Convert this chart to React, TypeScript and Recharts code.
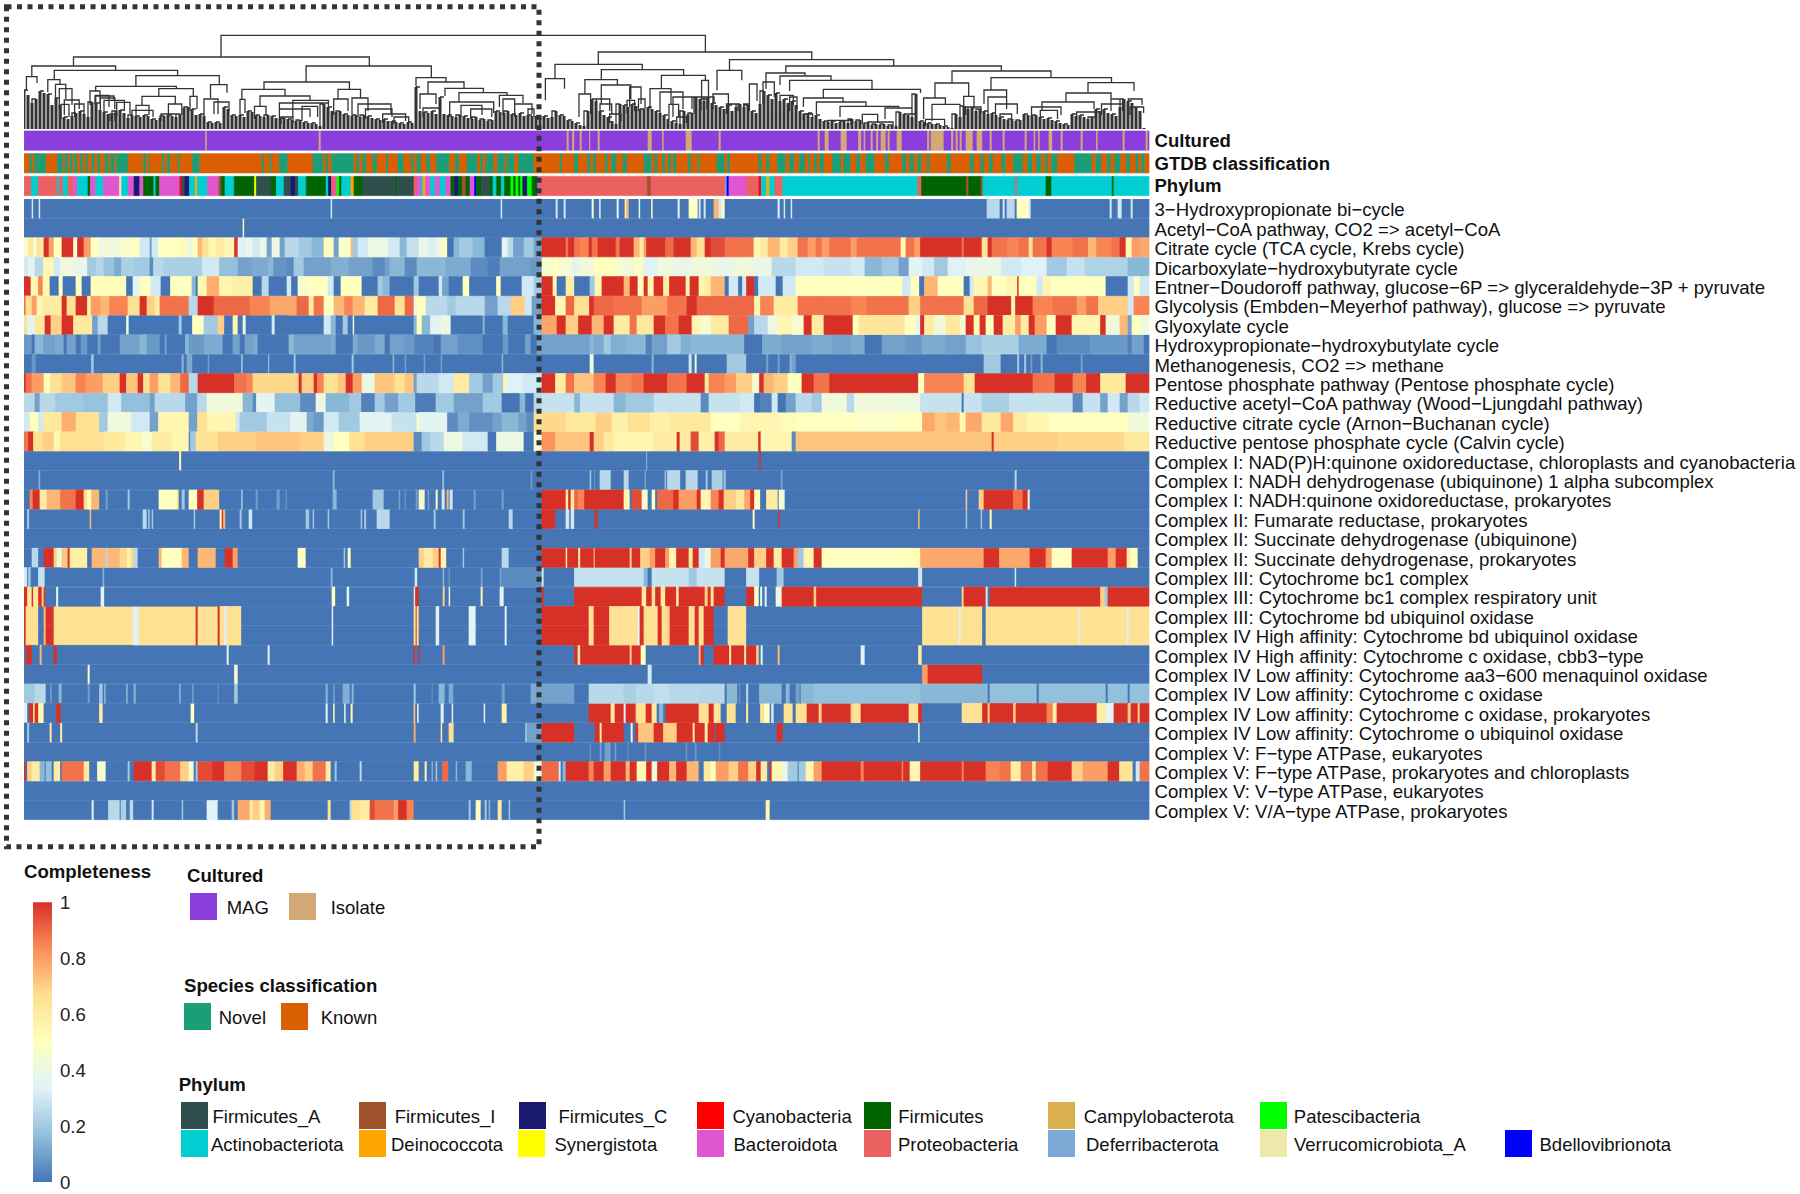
import React from 'react';
import { BarChart, Bar, Cell, XAxis, YAxis, LineChart, Line } from 'recharts';

const font = '"Liberation Sans", Arial, sans-serif';
const columns = 1125;

// completeness per pathway, as flat pairs: last column of the run, value of the run
const hydroxy3 = [8,0,9.5,.3,15,0,16.5,.3,307,0,308.5,.3,477,0,478.5,.3,532,0,534,.3,540,0,542,.3,568,0,570,.5,575.5,0,577,.35,593,0,595,.35,601,0,602.5,.55,605,.75,615,0,616.5,.35,627.5,0,629,.55,654,0,656,.35,665,0,674,.5,675,0,677,.3,680,0,682,.3,690,0,695,.75,698,.3,701,.5,754,0,756,.35,760,0,761.5,.3,767,0,768.5,.3,963,0,976,.25,979,0,981,.3,983,0,991,.25,993,0,1005,.5,1007,.3,1086,0,1088,.3,1094,0,1098,.3,1107,0,1109,.3,1125,0];
const acetylCoa = [219,0,220.5,.55,1125,0];
const citrate = [4.5,.45,9.5,.62,13,.45,16,.66,20,.6,25,1,30,.8,38,.5,49.5,1,53.5,.45,60,1,67,.8,75.5,.5,80.5,.4,97.5,.42,109,.47,116,.5,126,.3,128,.1,134.5,.3,155,.5,163,.52,168.5,.4,174,.5,178.5,.75,185,.66,192,.55,200,.6,210.5,.55,214,1,222,.33,229,.38,236,.3,243,.38,248,.1,256,.4,261,.1,275,.25,288,.2,300,.15,310,.52,315,.1,327,.47,329,.75,334,.2,344,.3,364.5,.4,376,.3,383,.15,395,.28,405,.38,412,.32,418.5,.4,423.5,.52,430,0,435.5,.15,449,.2,461,.15,478,0,484,.35,489.5,.25,500,.1,510,.2,518,.1,542,1,544.5,.88,550.5,1,556,.88,565,.85,568,1,574,.88,592,1,596,.88,610,1,616,.75,620,.6,622.5,.8,641.5,1,650,.9,667,1,673,.75,681,.66,687,1,701,.95,712.5,.88,730,.88,736.5,.55,744,.6,756,.75,764,.6,774,.7,784,.88,792,.8,798,.88,805.5,.8,827,.88,833,.8,877,.88,882,.55,890.5,.88,896.5,.8,938,1,940,.88,958,1,964,.66,968,1,983.5,.88,995,.85,1005,.88,1009,.66,1023,.88,1028,1,1049,.85,1064.5,.88,1072.5,.75,1088,.85,1096,.88,1102,1,1108,.55,1116,.8,1125,.78];
const dicarboxylate = [4.5,.3,11,.35,19.5,.25,30,.55,36.5,.3,50,.42,63.5,.38,72,.2,80,.24,90.5,.18,97.5,.12,111,.22,126,.2,129.5,.05,140,.25,155,.22,178.5,.22,195.5,.3,214,.17,228,.1,244.5,.12,249.5,.15,263,.07,270,.05,280,.2,307,.1,325,.13,349,.1,361,.05,366,.1,381,.15,393,.05,422,.15,447,.12,464,.05,476,.02,506.5,.1,518,.08,530,.45,536,.5,548,.45,555,.35,570,.42,590,.5,600,.45,610,.42,620,.48,633.5,.33,650,.42,669,.38,690,.42,710,.38,730,.42,748,.38,772,.25,800,.3,827,.28,841,.3,858,.15,875,.2,885,.1,898.5,.35,910.5,.3,924,.2,942,.33,977.5,.38,997,.3,1023,.33,1043,.2,1061,.28,1104,.23,1125,.15];
const entner = [7,1,14.5,.55,19,.85,26,.55,35,0,39,.5,44,0,52,0,58,.5,62.5,0,67,0,72,.5,102.5,.52,109,0,116,.35,127,.5,137,.3,146.5,0,168,.5,172,.15,174,0,183,.55,195.5,.77,209,.55,229,.58,238,0,245,.25,263,0,267.5,.3,274,0,283,.45,304,.5,310,.3,317,0,338,.5,354,0,359,.2,366,.15,370,0,390,0,395,.2,415,0,418.5,.3,425,.1,430,0,439,0,445.5,.5,457,0,472.5,0,477,.5,498,0,503,.3,510,.3,518,.2,529,1,533,.55,542,0,550.5,.6,566,0,571,.2,578,.55,600,1,606,.75,614,1,620,.5,624,1,630,.55,639.5,1,645.5,.6,652.5,1,662,1,666,.55,675,1,681,.55,687,.6,701,.75,705,0,714.5,.3,718.5,0,722.5,.3,730.5,1,734.5,0,752,.3,759,0,772,.3,794,.5,878.5,.5,887,.3,895.5,.5,900.5,0,914,.75,940,.5,946,0,950,.3,964,.55,968,.75,982,.5,993.5,.55,995,1,1013,.5,1019,.3,1027,.55,1056,.5,1082,.5,1090,0,1104,0,1110,.3,1116,.5,1125,.3];
const glycolysis = [2,.88,8,.66,13,.8,19.5,.55,38,.6,43,1,52,.66,63.5,1,67,.55,77,.8,85.5,.75,104,.85,116,.66,123,1,131,.7,136,.6,145,.88,165,.88,174,.25,190,1,207,.9,226,.9,246,.85,263,.78,273,.78,285,.9,290,.6,300,.88,310,.5,320.5,.75,329,.85,341,.75,354,.6,371,.9,381,.65,390,.9,393,.4,402,.5,423.5,.25,432,.2,450.5,.25,461,.25,474,.1,487,.25,501,.7,508,.3,518,.1,531.5,1,542,.55,550.5,.9,565.5,.66,570,1,590,.9,606,.88,618,.88,643.5,.8,663,.88,673,1,701,.9,716.5,.9,730.5,.9,736.5,.55,750,.85,774,.6,798,.88,827,.88,843,.85,885,.88,896.5,.7,940,.88,950,.66,964,.9,987.5,1,991.5,.55,1009,1,1029,.85,1053,.88,1062.5,.8,1074.5,.88,1104,.7,1110,.3,1125,.85];
const glyoxylate = [3.5,.66,11,.35,21,.62,27,1,38,.7,49.5,1,68.5,.62,74,.1,84,.25,102.5,0,105,.4,155,0,158,.2,168.5,0,180,.5,194,.2,200.5,.7,209,0,214,.55,219,0,222,.4,248,0,251,.3,300,0,307,.3,312,.15,319,0,324,.2,329,0,330.5,.4,390,0,393,.15,398,.5,406.5,.15,417,.35,427,.4,459,0,461,.15,479,0,484,.15,510,0,518,.15,533,.78,542,1,554.5,.7,558,1,568,1,580,.75,590,1,606,.6,613,.88,630,.62,641.5,1,655,.88,668,1,677,.55,687,.45,705,.6,724.5,.9,730.5,.1,744,.25,754,.4,768,.55,780,.45,788,1,800,.6,805.5,1,829,1,835,.5,881,.63,892.5,.5,896.5,.35,900.5,1,910.5,.6,922,.42,936,.62,942,.45,950,1,956,.55,962,1,970,.5,979,1,991.5,.6,997,.8,1005,.6,1011,1,1023,.8,1032,.5,1048,1,1076.5,.55,1082,1,1096,.42,1104,.75,1108,.1,1116,.5,1125,.42];
const hydroxyButylate = [8,.08,11,0,19.5,.15,31.5,.1,40,.12,43,0,52,.1,57,0,63.5,.08,74,0,77,.1,96,0,116,.1,123,.15,136,.08,141,0,143,.1,161.5,0,165,.15,180,.08,199,.12,209,0,216,.1,221,0,229,.1,234,.12,243,0,265,0,270,.15,307,.1,312,.12,329,0,334,.12,351,.08,361,.12,366,0,380,.1,391,.08,410,.03,417,0,434,.1,459,.06,479,0,484.5,.08,501.5,0,507,.1,513,0,518,.1,566,.1,570,.15,580,.12,587,.2,602,.13,622,.15,628,.03,643.5,.1,657,.2,667,.13,697,.15,720.5,.15,738.5,0,758,.12,788,.1,808,.12,827,.1,841,.12,858,0,882,.1,898.5,.08,922,.12,942,.1,958,.18,995,.22,1023,.12,1033,0,1066.5,.05,1104,.08,1108,.03,1120,.1,1125,0];
const methanogenesis = [8,0,12,.08,67.5,0,70,.2,158,0,160,.15,163,0,168.5,.12,184,0,185.5,.1,217.5,0,219,.2,244.5,0,245.5,.2,270,0,272,.2,328,0,330,.2,369,0,370.5,.15,381,0,382.5,.1,400,0,401.5,.1,417,0,418.5,.1,478,0,479.5,.15,566,0,570,.4,628,0,630,.15,665,0,668,.3,671,0,673,.4,703,0,722.5,.2,742.5,0,744.5,.1,754,0,756,.1,766,0,768,.15,772,.1,960,0,977,.2,993.5,0,995.5,.2,1000.5,0,1002.5,.2,1007,0,1008.5,.1,1017,0,1019,.15,1057,0,1059,.1,1125,0];
const pentose = [2,1,8,.88,20,.8,26.5,.5,38,.66,52,.72,62,.85,79,.8,96,.7,102.5,1,114,.72,119.5,1,126,.66,134.5,.8,146.5,.65,156.5,.75,165,.9,174,.25,210.5,1,222.5,.88,229,.85,275,.68,278,1,290,.7,293.5,1,300,.85,314,.65,322,.72,329,1,338,.8,351,.4,371,.72,381,.65,390,.72,393,.1,415,.25,430,.3,445.5,.6,459,.2,469,.1,479.5,.2,483,.55,500,.33,510,.3,518,.3,531.5,1,542,.6,550.5,.88,570,.72,582,.85,592,1,608,.85,620,.88,643.5,1,663,.88,681,1,685,.6,701,.85,712.5,.8,728.5,.7,735.5,.45,740,1,750,.75,764,.7,778,.5,790,1,805.5,.88,859,1,885,1,894.5,1,900.5,.5,940,.85,951,.65,958,1,995,1,1009,1,1031,.88,1049,1,1062.5,.85,1076.5,1,1102,.62,1112,1,1125,1];
const reductiveAcetyl = [11,.25,16,.1,31.5,.25,40,.2,60,.2,84,.18,97.5,.3,126,.17,131,.1,161.5,.25,173.5,.1,183,.25,219,.42,229,.15,232.5,.05,251,.35,276.5,.17,292,.05,302,.4,325.5,.15,337.5,.2,351,.03,361,.2,374.5,.1,391.5,.2,412,.02,418.5,.2,430,.2,459,.1,467,.2,478,.2,496,0,501.5,.15,510,0,518,.25,550.5,.28,556.5,.15,576,.28,590,.28,602,.15,630,.2,677,.28,685,.05,716.5,.28,730.5,.3,736.5,0,748,.03,754,.3,762,0,772,.1,780,.25,788,.25,798,.2,823,.42,830.5,.25,877,.42,896.5,.4,938,.28,940,0,958,.28,985.5,.22,1021,.28,1049,.28,1059,.05,1076.5,.28,1084,.1,1096,.3,1104,.1,1116,.25,1125,.3];
const reductiveCitrate = [6,.3,14.5,.5,19.5,.3,38,.62,52,.77,75.5,.66,84,.2,107.5,.42,126,.3,134.5,.1,165,.55,173.5,.1,183.5,.66,212,.55,216,.3,243,.2,266.5,.28,283,.35,290,.12,300,.08,315,.3,336,.2,368,.35,393,.28,395,.5,423.5,.35,434,.05,445.5,.12,469,.06,478,.1,494.5,.15,503,.1,510,.05,518,.66,542,.68,572,.62,588,.7,604,.58,626,.66,645.5,.58,687,.62,716.5,.5,756,.55,772,.52,796,.5,831,.5,873,.48,898.5,.5,911,.78,922,.72,936,.75,942,.55,958,.78,977,.62,989.5,.78,1003,.6,1025,.55,1104,.5,1116,.42,1125,.42];
const reductivePentose = [4.5,.88,9.5,1,19.5,.66,30,.7,36.5,.55,80.5,.66,101,.62,118,.55,128,.45,148,.6,165,.55,166.5,.05,172,.2,194,.65,232.5,.7,276.5,.72,300,.7,310,.4,325.5,.5,341,.66,390,.7,398,.05,406.5,.2,420,.25,439,.4,452,.3,464,.3,472.5,0,500,.4,510,0,518,.45,531.5,.82,566,.72,570,1,580,.7,590,.62,630,.55,653,.6,656,1,667,.6,675,.95,691,.58,695,1,701,.9,734.5,.6,737,1,768,.55,772,.05,896.5,.72,968,.72,970,1,1033,.7,1100,.68,1125,.62];
const nadphQuinone = [155.5,0,157.5,.55,622.5,0,623.5,.15,735.5,0,737,1,1125,0];
const nadhAlpha = [15,0,16.5,.15,309,0,311,.15,418.5,0,420.5,.15,507,0,508.5,.1,566,0,567.5,.2,570.5,0,571,.1,576,0,587,.25,600,0,605,.25,621,0,622,.15,641,0,642.5,.2,643.5,0,656.5,.25,662,0,674,.25,682,0,684,.2,688,0,699,.22,700,0,702,.2,757,0,759,.1,991,0,993,.25,1125,0];
const nadhQuinone = [6,0,9,.85,16,1,23,.6,36.5,.75,52,.88,60,1,63.5,.66,67.5,.5,75.5,.75,82,0,84,.1,104,0,106,.2,135,0,153,.5,155,.62,158,0,161,.2,165,0,173.5,.5,180,1,195.5,.7,217.5,0,219,.2,232,0,234,.1,253,0,256,.1,262,0,263,.1,309,0,313,.15,349,0,360,.2,375,0,376.5,.1,381,0,382,.1,392,0,394,.1,395,0,401,.45,404,0,405.5,.1,412,0,414,.5,418,0,421,.3,423,0,425,.75,426,0,429,.3,450,0,452,.1,478,0,480,.1,518,0,542,1,544.5,.6,547,1,550.5,.6,554.5,.9,560.5,.85,600,1,606,.55,608,0,618,.95,624,.45,628,0,631.5,.5,633.5,0,649.5,.9,655,1,673,.8,677,1,687,.55,695,.85,700,1,712.5,.7,720.5,.62,726.5,.78,730.5,1,736.5,.5,742.5,0,754,.6,755,0,761,.45,942,0,943.5,.7,955,0,960,.7,989.5,1,999,.88,1004,1,1006,.4,1125,0];
const fumarate = [3.5,0,5.5,.2,66,0,67.5,.75,119,0,123,.25,124.5,0,126,.2,128,0,129.5,.2,170,0,171.5,.2,196,0,198,.5,199.5,1,201.5,.75,216,0,218,.2,225,0,228.5,.3,282,0,285.5,.2,289,0,290.5,.2,304,0,305.5,.2,337,0,338.5,.2,340.5,0,342.5,.2,353,0,366,.25,410,0,412,.2,439,0,441,.2,485,0,489,.25,518,0,531.5,1,542,0,545.5,.3,547,0,550.5,.3,571,0,574,1,729,0,731,.5,755,0,756.5,1,894.5,0,896,.75,942,0,943.5,.2,957,0,958.5,.2,966,0,968,.5,1125,0];
const succUbiquinone = [1125,0];
const succProkaryotes = [8,0,14.5,.25,20,0,30,1,33,.7,38,.4,44,.72,46,1,63.5,.58,68,0,82,.75,84,.25,85.5,.75,96,.75,103.5,.68,107,.55,110,.68,114,.25,135,0,138,.75,158,.5,165,.75,174,0,192,.75,201,0,209,1,214,.8,274,0,282,.5,320,0,321.5,.2,324,0,327,.5,395,0,400,.7,409,.6,415,.7,417,1,422.5,.55,439,0,440.5,.2,478,0,485,.25,518,0,542,1,543.5,.6,554.5,1,556.5,.6,570,1,571,.7,606,1,608,.7,616.5,1,626,.7,631.5,.8,641.5,1,645.5,.8,652.5,.55,665,1,669,.6,675,1,681,.3,687,.4,697,.8,701,1,712.5,.78,724.5,.78,730.5,1,742.5,.7,750,1,758,.6,770,1,774,.8,780,.2,790,.55,798,1,887,.5,896.5,.52,960,.78,975.5,1,1006,.78,1022,1,1028,.8,1048,.5,1084,1,1092,.8,1103,1,1107,.6,1114,.5,1125,0];
const bc1Complex = [3.5,.3,4.5,0,7,.2,14.5,0,21,.28,79,0,80.5,.15,307,0,309,.15,391,0,393.5,.3,419,0,420.5,.15,425,0,426,.1,457,0,459,.1,476,0,477.5,.1,518,.05,520,.3,550.5,0,620,.28,624,.15,628,0,665,.28,673,.2,701,.28,722.5,0,735.5,.28,753,0,760,.2,894.5,0,898.5,.3,991,0,992.5,.3,1125,0];
const bc1Respiratory = [3.5,1,8,.62,9.5,1,14.5,.62,18,1,20,.7,21.5,1,32.5,0,34.5,.35,77,0,80.5,.35,308,0,311.5,.5,323,0,325.5,.35,390,0,391.5,.3,395,1,419,0,421,.7,425,0,426.5,.35,457,0,459,.55,476,0,480,.35,518,0,520,1,550.5,0,618,1,622.5,.6,628,1,631.5,.65,637,1,641.5,.6,652.5,1,655,.6,681,1,684,.7,687,1,690,.65,701,1,722.5,0,730.5,1,735,.5,736.5,0,738.5,.35,741,0,743,.35,752,0,758,.4,790,1,792.5,.7,898.5,1,938,0,940,.7,962,1,964,.3,966,0,1076.5,1,1081,.7,1084,.2,1125,1];
const bdOxidase = [2,1,14.5,.66,20,0,22,.75,30,1,32.5,.66,109,.66,115,.33,172,.66,174,1,194,.66,196,1,200.5,.66,203,.33,217.5,.66,308,0,309.5,.33,390,0,392,.66,393,1,395,.66,412,0,415.5,.33,445,0,452,.35,481,0,483,.33,518,0,565,1,570,.66,585.5,1,614,.66,616,.33,620,1,623,.66,634,.66,638,1,643.5,.66,646,.7,665,1,671,.66,675,1,680,.66,685,1,690,1,704,0,722.5,.66,898.5,0,935,.66,937,.33,958.5,.66,962,0,1054.5,.66,1056,.33,1103,.66,1105,.33,1125,.66];
const cbb3 = [2,0,8,1,16,0,18,.75,30,0,33,1,203,0,205,.35,244,0,246,.35,390,0,391.5,1,395,0,396.5,1,419,0,421,.8,550.5,0,554,1,556.5,.6,606,1,608,.7,617,1,622,.5,675,0,677,.75,680,1,690,0,705.5,1,707.5,.6,720.5,1,722.5,.6,732.5,1,735,.7,737,0,739,.35,754,0,756,.75,837,0,841,.35,894.5,0,898,.6,1125,0];
const aa3600 = [64,0,66,.5,210.5,0,214,.45,624,0,628,.3,898.5,0,904,.8,958.5,1,1125,0];
const lowC = [6,.2,11,.2,22,.25,26.5,0,28,.1,35,0,38,.15,64,0,66,.1,75.5,0,79,.2,80.5,0,82,.15,102.5,0,104,.15,110,0,112,.15,155.5,0,157,.15,168.5,0,170,.1,194,0,195,.08,210.5,0,214,.2,302,0,304,.15,309.5,0,311,.1,319,0,326,.13,328,0,330,.15,390,0,392,.2,408,0,409,.08,415,0,421,.15,425,0,429.5,.12,478,0,481,.1,507,0,512,.12,518,.1,550.5,.1,565,0,600,.25,612,.22,630,.25,645.5,.27,675,.25,701,.24,703,0,713.5,.15,715.5,0,716.5,.08,722.5,0,724.5,.25,735.5,0,758,.15,762,0,766,.15,772,0,776,.1,777,0,790,.15,896.5,.17,939,.15,964,.15,966,0,1013,.17,1015,0,1082,.17,1084,0,1104,.17,1106,0,1125,.17];
const lowCProk = [3.5,.35,5.5,0,9.5,1,11,.6,14.5,1,20,.55,32.5,0,37,1,75.5,0,79,.6,167,0,170.5,.5,302,0,304,.35,309.5,0,311,.55,320.5,0,322,.35,327,0,329,.55,390,0,391.5,.7,393.5,0,395,.35,417,0,420,.35,428,0,429.5,.35,460,0,461.5,.35,478,0,483,.58,565,0,587,1,591,.62,600,1,602,.35,612,1,622,.66,628,1,633,.62,635.5,0,639.5,.15,642,0,675,1,685,.66,690,1,697,.65,703,0,712,.66,722.5,0,724.5,.6,736.5,0,740.5,.66,746,.5,747.5,0,750,.3,760,0,769,.66,772,0,783,.66,795,1,798,.7,827,1,829,.7,837,.66,885,1,894.5,.66,898.5,1,938,0,958.5,.66,964,1,966,.7,989.5,1,992,.7,1023,1,1029,.85,1033,.6,1073,1,1082,.6,1090,.35,1104,1,1107,.7,1114,1,1116,.7,1125,1];
const lowO = [3.5,0,5.5,.2,26,0,28,.6,36.5,0,38.5,.6,172,0,174,.25,390,0,392,.78,417,0,418.5,.6,425,0,430,.66,501.5,0,503,.2,518,.1,550.5,1,571,0,576,1,578,.6,600,1,607,0,609,.4,612,0,614.5,1,630,.72,639.5,1,653,.7,669,1,671,.6,681,1,684,.6,691,1,692,0,701,1,753,0,759,1,894.5,0,896,.4,1125,0];
const fTypeEuk = [566,0,567,.1,576,0,578,.1,581,0,587,.1,591,0,592.5,.1,604,0,605,.08,621,0,622.5,.08,662,0,663.5,.08,671,0,673,.08,695,0,696.5,.06,1125,0];
const fTypeProk = [2,1,3.5,0,8,.7,16,.6,21,.15,22,0,28,.17,30,0,36.5,.6,38,0,60,.88,65.5,.6,73.5,0,82,.45,104,0,106,.2,110,0,114,1,128,1,132,.6,141,.95,156.5,.88,165,.7,170,.45,172,0,174,.2,188.5,.95,200.5,1,217.5,.85,231,.95,244,1,251,.6,259.5,.7,273,1,281,.77,289,.7,302,.88,307,.6,311,0,313,.2,336,0,338,.25,390,0,395,.6,401,0,403,.55,408,0,409,.2,412,0,413.5,.2,418.5,0,424.5,.9,432,0,433.5,.15,442,0,448,.15,474,0,483,.8,500,.58,510,.7,518,.42,535,.9,537,.3,539,0,542,.15,565,1,570,.85,580,1,587,.8,602,1,606,.75,613,1,622.5,.55,628,1,633.5,.42,645.5,1,652.5,.75,663,1,675,.75,680,0,687,.62,692,.5,705,.8,714.5,.7,724.5,.88,732.5,.7,737,1,743.5,.6,746,0,748,1,759,.55,764,.38,774,.2,775,0,782,.2,790,.55,798,.8,837,1,840,.85,878,1,879.5,.85,886,1,896.5,.55,938,1,940,.85,962,1,976,.85,987,.88,997,.6,1008.5,.88,1012,.6,1024,.88,1031,1,1048,1,1059,.7,1084,.8,1095.5,1,1109,.65,1112,0,1116,.3,1125,.88];
const vTypeEuk = [1125,0];
const vaType = [68,0,70,.35,84.5,0,96,.25,97,0,102.5,.22,106,0,109.5,.25,128,0,130,.3,158,0,159.5,.2,183,0,194,.33,208,0,210.5,.2,214,0,226,.78,229,.6,236,.7,241,.55,247,.77,304,0,307,.65,326,0,328,.25,336,.66,346,.6,351,.95,370,.88,374.5,.8,383,1,390,.85,445,0,447,.2,452,0,457,.5,461,0,463,.2,465,0,466.5,.15,474,0,478,.6,485,0,486.5,.2,600,0,601.5,.2,742,0,746,.55,1125,0];

const cultured = [181.5,0,183,1,295,0,297,1,543,0,545,1,548.5,0,550.5,1,556,0,558,1,565.5,0,566.6,1,574,0,576,1,624,0,628,1,638.5,0,640,1,662,0,668,1,695,0,697,1,794,0,796,1,801,0,805,1,817,0,823,1,834.5,0,837.5,1,840,0,841.5,1,847,0,849,1,852.5,0,854.5,1,857,0,862,1,864,0,866,1,873,0,878,1,903.5,0,905.5,1,907,0,920,1,927.5,0,929.5,1,932,0,934,1,936,0,938,1,942,0,949,1,953,0,958.5,1,966,0,968,1,979,0,981,1,1001,0,1003,1,1010,0,1011.5,1,1014.5,0,1016,1,1025,0,1028.5,1,1037,0,1039,1,1057,0,1059,1,1072.5,0,1074,1,1099,0,1101,1,1122,0,1124,1,1125,0];
const gtdb = [6,0,8.5,1,10.4,0,13,1,13.5,0,22,1,33.4,0,39,1,41,0,44,1,46,0,48.7,1,50.6,0,53.3,1,56.4,0,59,1,62,0,64,1,67.8,0,70.5,1,73.6,0,76.3,1,81.2,0,85,1,87,0,90.8,1,92.7,0,104.2,1,119.5,0,122.2,1,125.3,0,126.4,1,137.9,0,139.8,1,143.2,0,146.3,1,154,0,155.9,1,168.5,0,175.8,1,238,0,240,1,245.8,0,247.7,1,255.4,0,263.8,1,289,0,299.4,1,302,0,304.4,1,307.8,0,330,1,333,0,335.7,1,338.8,0,342.6,1,349,0,353,1,362.5,0,364.4,1,374,0,379.7,1,387.4,0,390,1,393,0,397,1,402.7,0,406.5,1,412.3,0,425.7,1,431.4,0,435.2,1,443,0,453.6,1,456.3,0,459,1,462,0,469.7,1,473.5,0,481,1,483,0,490.7,1,494.6,0,509.9,1,536,0,538,1,550.5,0,554.4,1,563.6,0,566.6,1,569.7,0,572.4,1,581.2,0,583.8,1,587.7,0,592.6,1,599,0,603,1,620.2,0,627.8,1,631,0,633.6,1,638.6,0,641.2,1,644.3,0,647,1,649.7,0,652.7,1,664.2,0,667,1,673.8,0,675.7,1,693,0,700.6,1,703.6,0,706.3,1,735,0,738,1,742.7,0,745.7,1,753.4,0,761.8,1,765.6,0,770.2,1,775.2,0,781,1,784.8,0,786.7,1,790.5,0,793,1,796,0,800,1,808.5,0,817.3,1,820,0,826.9,1,832.6,0,836.4,1,842,0,850.6,1,861.3,0,865,1,878.5,0,882.3,1,886,0,890,1,893.8,0,897.6,1,903.4,0,905.7,1,923.3,0,927,1,946.3,0,950,1,957,0,960,1,965.4,0,969,1,978,0,981.8,1,989.5,0,999,1,1003.7,0,1008.6,1,1012.5,0,1017.4,1,1021.3,0,1024,1,1027.8,0,1033.5,1,1050.7,0,1068,1,1071.8,0,1077.5,1,1083.3,0,1087,1,1091,0,1096.7,1,1102.4,0,1106,1,1112,0,1114.6,1,1117.7,0,1120.8,1,1125,0];
const phylum = [7.4,11,14.3,7,33.4,11,35.3,7,39,11,44,7,49.5,11,53.3,10,64,7,66.3,4,71.7,10,79.3,7,95.4,10,97.7,13,104.2,7,110,10,115.7,2,119.5,10,129.8,4,131.8,7,135.6,4,155.9,10,157.8,3,160.8,0,165.4,2,171.2,7,173.5,8,183.4,7,194.9,10,197.2,1,201,4,210.2,7,230.5,4,232.4,9,247,0,252.3,4,260,7,266.9,0,271.4,2,274.5,0,282.2,7,302,4,304.4,7,307.4,2,310.9,11,312.8,10,315.5,6,317.7,4,327,7,330,8,338.8,4,371.3,0,373.2,4,390,0,393,11,397,10,399,7,401.6,8,406.5,10,411,7,416,10,421.8,7,426.8,10,430.6,4,434.5,2,438.3,4,442,1,446,4,450.5,10,452.5,14,457.4,4,465.9,0,469,4,472.7,7,477.3,4,480.4,7,486.9,4,489.6,6,491.9,4,494.6,6,496.5,4,498.8,6,503.4,2,508,6,513.7,4,517,10,623.3,11,627,1,701.3,11,702.9,12,705,14,722.4,10,735,11,737.3,3,742.7,7,745.7,8,751,7,758.7,11,893.8,7,897.6,11,942.4,4,944.7,1,957,4,959,1,991.4,7,993.3,11,1022,7,1027.8,4,1088.2,7,1090,4,1125,7];

const pathwayNames = [
  '3−Hydroxypropionate bi−cycle', 'Acetyl−CoA pathway, CO2 => acetyl−CoA', 'Citrate cycle (TCA cycle, Krebs cycle)',
  'Dicarboxylate−hydroxybutyrate cycle', 'Entner−Doudoroff pathway, glucose−6P => glyceraldehyde−3P + pyruvate',
  'Glycolysis (Embden−Meyerhof pathway), glucose => pyruvate', 'Glyoxylate cycle', 'Hydroxypropionate−hydroxybutylate cycle',
  'Methanogenesis, CO2 => methane', 'Pentose phosphate pathway (Pentose phosphate cycle)',
  'Reductive acetyl−CoA pathway (Wood−Ljungdahl pathway)', 'Reductive citrate cycle (Arnon−Buchanan cycle)',
  'Reductive pentose phosphate cycle (Calvin cycle)', 'Complex I: NAD(P)H:quinone oxidoreductase, chloroplasts and cyanobacteria',
  'Complex I: NADH dehydrogenase (ubiquinone) 1 alpha subcomplex', 'Complex I: NADH:quinone oxidoreductase, prokaryotes',
  'Complex II: Fumarate reductase, prokaryotes', 'Complex II: Succinate dehydrogenase (ubiquinone)',
  'Complex II: Succinate dehydrogenase, prokaryotes', 'Complex III: Cytochrome bc1 complex',
  'Complex III: Cytochrome bc1 complex respiratory unit', 'Complex III: Cytochrome bd ubiquinol oxidase',
  'Complex IV High affinity: Cytochrome bd ubiquinol oxidase', 'Complex IV High affinity: Cytochrome c oxidase, cbb3−type',
  'Complex IV Low affinity: Cytochrome aa3−600 menaquinol oxidase', 'Complex IV Low affinity: Cytochrome c oxidase',
  'Complex IV Low affinity: Cytochrome c oxidase, prokaryotes', 'Complex IV Low affinity: Cytochrome o ubiquinol oxidase',
  'Complex V: F−type ATPase, eukaryotes', 'Complex V: F−type ATPase, prokaryotes and chloroplasts',
  'Complex V: V−type ATPase, eukaryotes', 'Complex V: V/A−type ATPase, prokaryotes',
];
const pathwayRuns = [hydroxy3, acetylCoa, citrate, dicarboxylate, entner, glycolysis, glyoxylate, hydroxyButylate, methanogenesis, pentose, reductiveAcetyl, reductiveCitrate, reductivePentose, nadphQuinone, nadhAlpha, nadhQuinone, fumarate, succUbiquinone, succProkaryotes, bc1Complex, bc1Respiratory, bdOxidase, bdOxidase, cbb3, aa3600, lowC, lowCProk, lowO, fTypeEuk, fTypeProk, vTypeEuk, vaType];

const annotationNames = ['Cultured', 'GTDB classification', 'Phylum'];
const culturedColors = ['#8A3FDD', '#D2A877'];
const gtdbColors = ['#D95F02', '#1B9E77'];
const phylumNames = ['Firmicutes_A', 'Firmicutes_I', 'Firmicutes_C', 'Cyanobacteria', 'Firmicutes', 'Campylobacterota', 'Patescibacteria', 'Actinobacteriota', 'Deinococcota', 'Synergistota', 'Bacteroidota', 'Proteobacteria', 'Deferribacterota', 'Verrucomicrobiota_A', 'Bdellovibrionota'];
const phylumColors = ['#2F4F4F', '#A0522D', '#191970', '#FF0000', '#006400', '#DAB04F', '#00FF00', '#00CED1', '#FFA500', '#FFFF00', '#E056D0', '#EB6060', '#7BAAD6', '#EEE8AA', '#0000FF'];

// dendrogram: left child column, right child column, merge height, left child height, right child height
const merges = [
  [197,681.4,93.7,72,77],[49.5,345.3,72,63,63],[7.8,91.6,63,52.3,58.7],[2.4,13,52.3,39,46],[30.3,153.6,58.7,49.3,53.3],
  [23.8,36,49.3,37,44.7],[111.9,195.3,53.3,42.7,44.3],[71.7,152.4,42.7,38,40.3],[186.5,203,44.3,31,36.3],[134.8,169.3,40.3,32.7,32.7],
  [118,151.3,32.7,23.7,25],[282.1,407.3,63,47,52],[240,325.4,47,39.7,39.7],[217.9,261,39.7,29.7,33],[314,336.5,39.7,30,31],
  [236,286,33,23,28.7],[255.4,304.4,26,18,20],[392,422,51.3,42.7,47],[404,440,47,35,40.7],[421,459.4,40.7,33,36.3],
  [435,483,36.3,27,33.7],[475.4,499,33.7,22,26],[396,412,35,20,25],[574.3,787.8,77,64.7,69.3],[531,618.3,64.7,50.3,59.3],
  [521.4,540.5,50.3,28.7,40.3],[577.3,659.6,59.3,49.3,53.7],[560.9,593.4,49.3,35,44.7],[637.4,681.4,53.7,40.3,47.7],[705.5,869.7,69.3,58.7,63],
  [693,717.8,58.7,38.7,48.7],[761.8,977.3,63,56,58],[742,781,56,40,53],[756,807,53,44,48.7],[765.6,848,48.7,38,39.7],
  [799.3,896.5,39.7,31,36],[779.4,819,31,22,27],[792.4,842,27,15,22.7],[816,874.7,22.7,12,21],[861,888,21,10,16],
  [928,1027,58,46,51.3],[911,944.7,46,31,32.7],[899.6,921.4,31,10,24.7],[908,936,24.7,8,8],[967,1087.5,51.3,39,46.3],
  [960,982.6,39,25,32],[1064,1110,46.3,36,38],[1042,1087,36,27,30],[1018,1070,27,18,20],[1104.3,1118,30,26,24],
  [40.3,55.2,29,14,20],[71,90,33,25,28],[577.3,606.8,44,25,30],[668,690,32,20,26],
  [31.5,41.8,44.7,25,30],[35.3,48,40.3,20,24],[37,45,24.7,10,12],[50.6,60,25,12,14],[66,76,38,24,27],[71.7,85,33.7,18,22],[76.3,90.8,31,15,20],[80,100.4,28.7,14,18],[92.7,106,26.7,12,15],[86,91,15,8,8],
  [112,125,23.7,12,14],[144.4,157.8,25,12,14],[108,129,18.7,10,12],[137,152,15,8,10],[166,173,32.7,18,20],[180,194,30,7,15],[190,205,27,15,18],
  [216,221,29.7,14,16],[230.5,242,22.7,10,14],[255.4,286,20,8,12],[268.8,304.4,28.7,12,16],[278,293.6,22.7,8,12],[257,269,12,5,6],
  [309.7,324,30,14,18],[328,344,31,14,18],[334,367,25,12,15],[341.5,368,20,10,12],[358.7,381.6,15,6,8],[370,384.7,12,5,6],
  [399,416,21,12,14],[425.7,469.7,27,12,16],[437,458,23.7,12,14],[446.7,467.8,20,10,12],[479,490.7,30,14,18],[490.7,508,25,12,15],[504,510,20,10,12],
  [555,566.6,35,12,15],[572.4,585.7,30,14,18],[576,587.7,25,12,14],[585.7,597,15,6,8],[605.7,617,42,22,25],[603,610.6,28.7,16,18],[614.5,621,30,18,20],[626,647,40.3,20,25],[636,659,37,15,20],[649,670,32,12,15],[645,654.6,24.7,10,12],[652.7,662.3,12,5,6],
  [677.6,684.5,48.7,30,32],[677,683,30,18,20],[689,704.4,35,20,24],[702.5,714,25,15,18],[725.4,733,45,25,28],[719.7,725.4,25,16,18],[739,750.3,47,25,32],
  [756,769.4,33.7,20,24],[765.6,773,32,18,20],[779.4,788.6,15,8,10],[804,827,8.7,3,4],[838.3,853.7,14.7,5,6],[844,869,7,3,3],
  [880.4,892,15,8,10],[901.5,920.6,9.7,3,4],[939.7,950,32.7,15,20],[941.7,957,22,14,16],[964,982.6,32,15,20],[971.5,993.3,25,12,15],[976,987.6,15,8,10],
  [1007.5,1037,22,10,14],[1016.3,1033.5,18.7,8,10],[1052.7,1075.6,17,10,12],[1064,1071.8,12,6,8],[1077.5,1098.6,25,14,18],[1087,1098.6,30,18,20],[1106,1119.6,22,14,16],
];
// height of the leaf clusters along the tree, one value every fourth column
const leafHeights = [39,34,26,30,38,36,35,24,31,24,12,10,13,16,18,15,12,27,26,19,17,15,14,18,19,16,11,14,13,12,14,13,10,9,11,13,14,13,12,15,21,22,20,14,15,13,7,6,7,6,22,20,14,13,14,12,18,17,14,13,12,14,13,11,10,11,10,9,8,9,7,6,6,5,3,25,22,18,17,18,15,14,13,14,12,14,13,11,10,9,10,8,8,7,6,5,7,6,42,18,17,16,18,15,32,15,14,13,12,14,13,11,10,12,9,10,8,9,18,17,16,18,15,14,16,13,14,13,13,12,13,11,12,18,14,13,9,8,6,4,3,18,30,28,18,14,12,8,5,25,24,22,25,23,20,20,22,20,18,16,14,10,8,6,5,18,15,16,32,30,28,32,26,24,22,20,24,18,22,25,22,24,18,16,25,38,34,30,36,28,30,26,28,24,18,15,16,12,14,10,8,7,8,6,7,8,6,10,8,9,5,6,4,5,4,5,3,4,3,17,15,14,12,35,8,7,6,5,5,4,3,2,1,15,12,23,20,22,18,20,18,15,16,14,12,10,9,10,8,9,15,14,13,14,12,10,11,9,8,6,5,4,15,13,14,12,10,12,20,18,20,16,15,13,22,30,28,26,22,18,1];

const colorStops = ['#4575B4', '#91BFDB', '#E0F3F8', '#FFFFBF', '#FEE090', '#FC8D59', '#D73027'];
const legendTicks = [0, 0.2, 0.4, 0.6, 0.8, 1];
const legendSwatchX = [181.4, 358.5, 518.7, 696.7, 864, 1048, 1259.5];
const legendLabelX = [212.5, 394.7, 558.5, 732.4, 898.3, 1083.7, 1293.8];
const legendTopRow = [0, 1, 2, 3, 4, 5, 6];
const legendBottomRow = [7, 8, 9, 10, 11, 12, 13, 14];
const legendBottomSwatchX = [181.4, 358.5, 518, 696.7, 864, 1048, 1259.5, 1505];
const legendBottomLabelX = [211, 391, 554.4, 733.5, 898, 1086, 1294, 1539.5];

function completenessColor(v: number) {
  const t = Math.min(0.9999, Math.max(0, v)) * (colorStops.length - 1);
  const i = Math.floor(t);
  const parse = (s: string) => [1, 3, 5].map((k) => parseInt(s.slice(k, k + 2), 16));
  const a = parse(colorStops[i]);
  const b = parse(colorStops[i + 1]);
  const c = a.map((x, k) => Math.round(x + (b[k] - x) * (t - i)));
  return `rgb(${c[0]},${c[1]},${c[2]})`;
}

// turn run lists into a stacked bar table, one key per segment
function buildRows(names: string[], runs: number[][], fillOf: (rowIndex: number, v: number) => string) {
  const fills: string[][] = [];
  const rows = names.map((name, r) => {
    const row: Record<string, number | string> = { name };
    const rowFills: string[] = [];
    let prev = 0;
    for (let i = 0; i < runs[r].length; i += 2) {
      row[`s${i / 2}`] = Math.max(0, runs[r][i] - prev);
      rowFills.push(fillOf(r, runs[r][i + 1]));
      prev = Math.max(prev, runs[r][i]);
    }
    fills.push(rowFills);
    return row;
  });
  const segments = Math.max(...runs.map((x) => x.length / 2));
  return { rows, fills, segments };
}

function RunChart({ table, top, height, barSize, bold }: any) {
  const keys = Array.from({ length: table.segments }, (_, i) => i);
  return (
    <div style={{ position: 'absolute', left: 24, top }}>
      <BarChart
        width={1776}
        height={height + 12}
        data={table.rows}
        layout="vertical"
        barCategoryGap={0}
        margin={{ top: 0, right: 0, bottom: 12, left: 0 }}
      >
        <XAxis type="number" domain={[0, columns]} hide />
        <YAxis
          type="category"
          dataKey="name"
          orientation="right"
          width={651}
          interval={0}
          axisLine={false}
          tickLine={false}
          tickSize={0}
          tickMargin={5.5}
          tick={{ fontSize: 18.6, dy: bold ? 0 : 1, fontFamily: font, fill: '#111', fontWeight: bold ? 'bold' : 'normal' }}
        />
        {keys.map((k) => (
          <Bar key={k} dataKey={`s${k}`} stackId="runs" isAnimationActive={false} barSize={barSize}>
            {table.rows.map((_: any, r: number) => {
              const fill = table.fills[r][k] || '#4575B4';
              return <Cell key={r} fill={fill} stroke={fill} strokeWidth={0.7} />;
            })}
          </Bar>
        ))}
      </BarChart>
    </div>
  );
}

function TreeLayer({ points, strokeWidth }: any) {
  return (
    <div style={{ position: 'absolute', left: 24, top: 28.7 }}>
      <LineChart width={columns} height={100} data={points} margin={{ top: 0, right: 0, bottom: 0, left: 0 }}>
        <XAxis type="number" dataKey="x" domain={[0, columns]} hide />
        <YAxis type="number" domain={[0, 100]} hide />
        <Line dataKey="y" stroke="#333" strokeWidth={strokeWidth} dot={false} connectNulls={false} isAnimationActive={false} />
      </LineChart>
    </div>
  );
}

function Dendrogram() {
  const branches: { x: number; y: number | null }[] = [];
  merges.forEach(([a, b, h, ha, hb]) => {
    branches.push({ x: a, y: ha }, { x: a, y: h }, { x: b, y: h }, { x: b, y: hb }, { x: b, y: null });
  });
  const stems: { x: number; y: number | null }[] = [];
  leafHeights.forEach((h, i) => {
    const x = i * 4;
    stems.push({ x, y: 0 }, { x, y: h }, { x, y: null });
    if (i % 2 === 0 && i + 1 < leafHeights.length) {
      const cap = Math.max(h, leafHeights[i + 1]);
      branches.push({ x, y: h }, { x, y: cap }, { x: x + 4, y: cap }, { x: x + 4, y: null });
    }
  });
  return (
    <>
      <TreeLayer points={stems} strokeWidth={3} />
      <TreeLayer points={branches} strokeWidth={1.3} />
    </>
  );
}

function ColorBar() {
  return (
    <div style={{ position: 'absolute', left: 33, top: 892 }}>
      <BarChart width={70} height={300} data={[{ name: 'Completeness', v: 1 }]} barCategoryGap={0} margin={{ top: 10.3, right: 0, bottom: 10, left: 0 }}>
        <defs>
          <linearGradient id="completeness" x1="0" y1="1" x2="0" y2="0">
            {colorStops.map((c, i) => (
              <stop key={c} offset={`${(i / (colorStops.length - 1)) * 100}%`} stopColor={c} />
            ))}
          </linearGradient>
        </defs>
        <XAxis dataKey="name" hide />
        <YAxis
          orientation="right"
          width={51}
          domain={[0, 1]}
          ticks={legendTicks}
          interval={0}
          axisLine={false}
          tickLine={false}
          tickSize={0}
          tickMargin={8}
          tick={{ fontSize: 18.6, fontFamily: font, fill: '#222' }}
        />
        <Bar dataKey="v" fill="url(#completeness)" isAnimationActive={false} />
      </BarChart>
    </div>
  );
}

function Label({ x, y, bold, children }: any) {
  return (
    <div style={{ position: 'absolute', left: x, top: y - 12, height: 24, lineHeight: '24px', fontFamily: font, fontSize: bold ? 18.6 : 18.5, fontWeight: bold ? 'bold' : 'normal', color: '#111', whiteSpace: 'nowrap' }}>
      {children}
    </div>
  );
}

function Swatch({ x, y, color }: any) {
  return <div style={{ position: 'absolute', left: x, top: y, width: 27, height: 27, background: color }} />;
}

export default function App() {
  const heat = buildRows(pathwayNames, pathwayRuns, (_, v) => completenessColor(v));
  const palettes = [culturedColors, gtdbColors, phylumColors];
  const annotation = buildRows(annotationNames, [cultured, gtdb, phylum], (r, v) => palettes[r][v]);
  return (
    <div style={{ position: 'absolute', left: 0, top: 0, width: 1800, height: 1194, background: '#fff', overflow: 'hidden' }}>
      <Dendrogram />
      <RunChart table={annotation} top={128.85} height={68.1} barSize={19.2} bold />
      <RunChart table={heat} top={199.3} height={621} />

      <svg width={1800} height={1194} style={{ position: 'absolute', left: 0, top: 0, pointerEvents: 'none' }}>
        <rect x={6.5} y={6.7} width={532.5} height={840} fill="none" stroke="#333" strokeWidth={5} strokeDasharray="5 5.5" />
      </svg>

      <Label x={24} y={872} bold>Completeness</Label>
      <ColorBar />

      <Label x={187} y={876} bold>Cultured</Label>
      <Swatch x={189.7} y={892.7} color={culturedColors[0]} />
      <Label x={226.7} y={907.7}>MAG</Label>
      <Swatch x={289.3} y={892.7} color={culturedColors[1]} />
      <Label x={330.7} y={907.7}>Isolate</Label>

      <Label x={184} y={986} bold>Species classification</Label>
      <Swatch x={183.7} y={1002.7} color={gtdbColors[1]} />
      <Label x={218.7} y={1017.7}>Novel</Label>
      <Swatch x={281.3} y={1002.7} color={gtdbColors[0]} />
      <Label x={320.7} y={1017.7}>Known</Label>

      <Label x={178.7} y={1085.3} bold>Phylum</Label>
      {legendTopRow.map((p, i) => (
        <React.Fragment key={p}>
          <Swatch x={legendSwatchX[i]} y={1102.3} color={phylumColors[p]} />
          <Label x={legendLabelX[i]} y={1116.7}>{phylumNames[p]}</Label>
        </React.Fragment>
      ))}
      {legendBottomRow.map((p, i) => (
        <React.Fragment key={p}>
          <Swatch x={legendBottomSwatchX[i]} y={1130} color={phylumColors[p]} />
          <Label x={legendBottomLabelX[i]} y={1144.7}>{phylumNames[p]}</Label>
        </React.Fragment>
      ))}
    </div>
  );
}
